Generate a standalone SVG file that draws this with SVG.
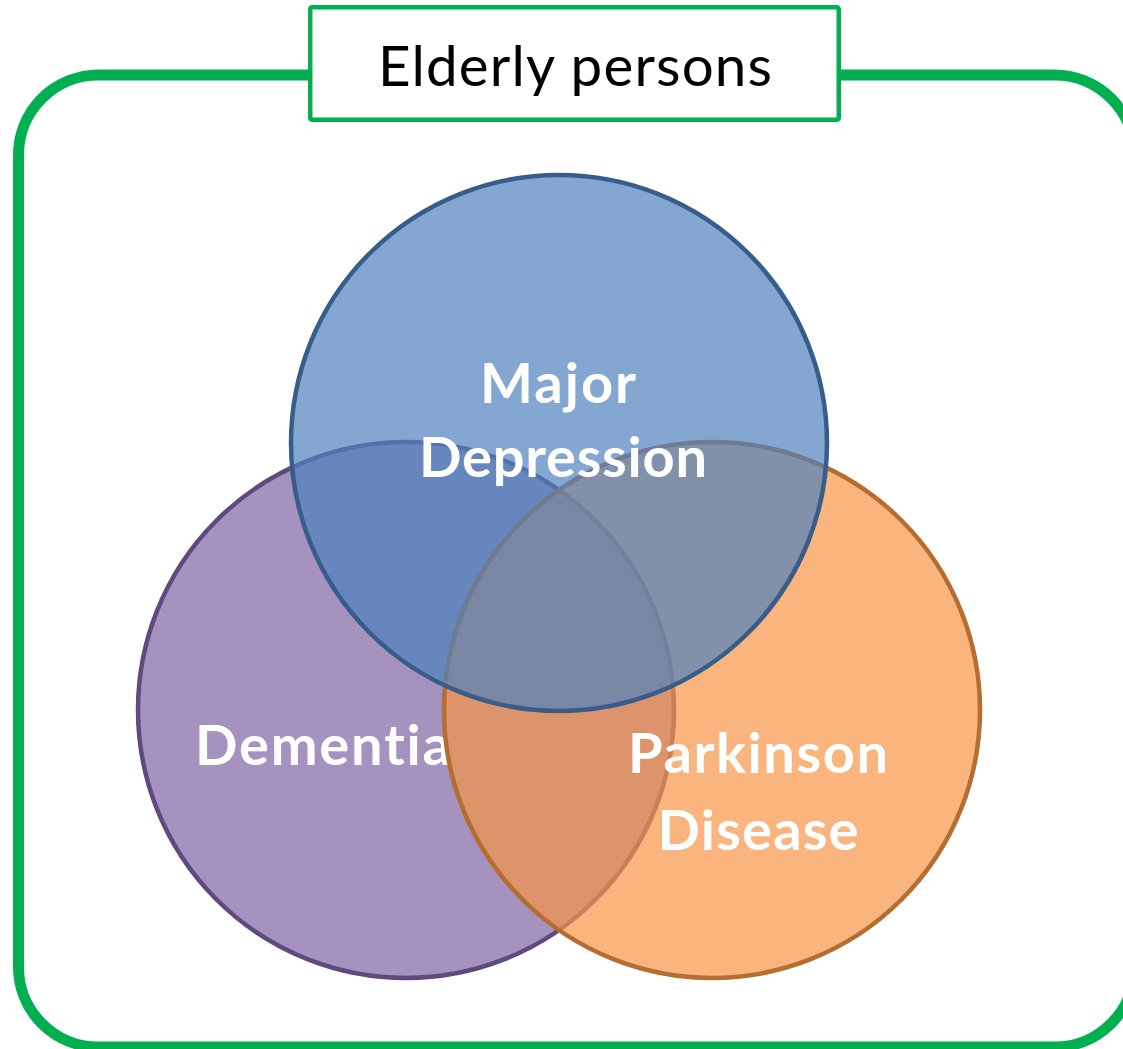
<svg xmlns="http://www.w3.org/2000/svg" width="1123" height="1049" viewBox="0 0 1123 1049">
  <style>
    .frame { fill: none; stroke: #00b050; stroke-width: 11; }
    .title-box { fill: #ffffff; stroke: #00b050; stroke-width: 4.5; }
    .title { font-family: Lato, "Open Sans", "Liberation Sans", sans-serif; font-size: 56.5px; fill: #000000; text-anchor: middle; }
    .set { stroke-width: 4.5; fill-opacity: 0.7; }
    .label { font-family: Lato, "Open Sans", "Liberation Sans", sans-serif; font-weight: 700; font-size: 56px; fill: #ffffff; text-anchor: middle; font-variant-ligatures: none; }
  </style>

  <!-- Population frame -->
  <g id="population">
    <rect class="frame" x="18.5" y="75" width="1116" height="972" rx="80" ry="80"/>
    <rect class="title-box" x="310.25" y="7.25" width="528.5" height="112.5" rx="2" ry="2"/>
    <text class="title" x="575" y="86" textLength="394">Elderly persons</text>
  </g>

  <!-- Dementia set -->
  <g id="dementia">
    <circle class="set" cx="406" cy="710" r="268" fill="#8064a2" stroke="#5f4a80"/>
    <text class="label" x="323" y="765" textLength="256">Dementia</text>
  </g>

  <!-- Parkinson Disease set -->
  <g id="parkinson">
    <circle class="set" cx="712" cy="710" r="268" fill="#f79646" stroke="#b66d31"/>
    <text class="label" x="758" y="773" textLength="260">Parkinson</text>
    <text class="label" x="758" y="850" textLength="201">Disease</text>
  </g>

  <!-- Major Depression set -->
  <g id="major-depression">
    <circle class="set" cx="559" cy="443" r="268" fill="#4f81bd" stroke="#385d8a"/>
    <text class="label" x="558" y="403" textLength="156">Major</text>
    <text class="label" x="563" y="477" textLength="288">Depression</text>
  </g>
</svg>
